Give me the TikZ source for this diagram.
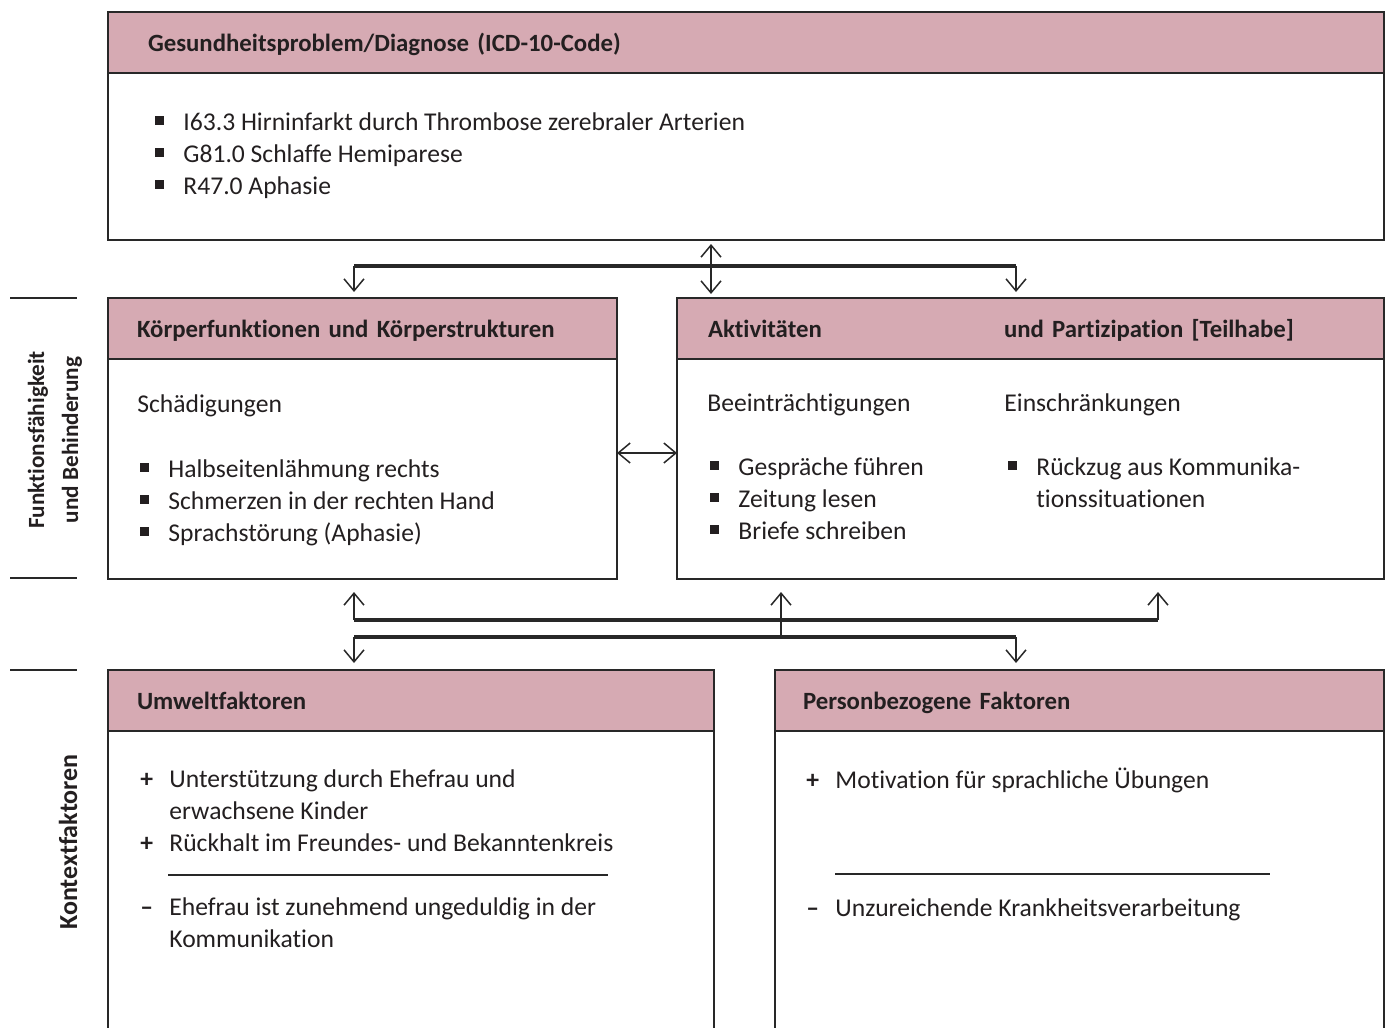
\documentclass[tikz,border=0pt]{standalone}
\usepackage{fontspec}
\setmainfont{Carlito}[Ligatures=NoCommon]
\usepackage{tikz}
\usetikzlibrary{positioning, calc}
\usetikzlibrary{arrows.meta}
\definecolor{headrose}{RGB}{214,170,179}
\definecolor{boxline}{RGB}{40,40,40}
\definecolor{inktext}{RGB}{35,31,32}
\newcommand{\bodyfont}{\fontsize{12.8}{16}\selectfont}
\newcommand{\headfont}{\fontsize{12.4}{16}\selectfont\bfseries}
\newcommand{\sidefont}{\fontsize{11.6}{17}\selectfont\bfseries}
\newcommand{\sqitem}{\makebox[14pt][l]{\rule[2.8pt]{4.5pt}{4.5pt}}}
\newcommand{\plusitem}{\makebox[14.5pt][l]{\textbf{+}}}
\newcommand{\minusitem}{\makebox[14.5pt][l]{\textbf{--}}}
\tikzstyle{headbox}=[draw=boxline, fill=headrose, line width=0.75pt, outer sep=0pt, inner xsep=14.5pt, anchor=north west, align=left, font=\headfont, text=inktext, minimum height=30.5pt, text height=10pt, text depth=1pt]
\tikzstyle{bodybox}=[draw=boxline, line width=0.75pt, outer sep=0pt, inner sep=0pt]
\tikzstyle{listtext}=[anchor=north west, inner sep=0pt, align=left, yshift=11.2pt, font=\bodyfont, text=inktext]
\tikzstyle{edgearrow}=[-{Straight Barb[length=6pt,width=10pt]}, line width=0.75pt, draw=boxline]
\tikzstyle{dblarrow}=[{Straight Barb[length=6pt,width=10pt]}-{Straight Barb[length=6pt,width=10pt]}, line width=0.75pt, draw=boxline]
\tikzstyle{busline}=[line width=1.6pt, draw=boxline]
\tikzstyle{sepline}=[line width=0.6pt, draw=boxline]
\tikzstyle{sidelabel}=[rotate=90, align=center, font=\sidefont, text=inktext]

\begin{document}
\begin{tikzpicture}[x=0.5pt, y=-0.5pt]
    \useasboundingbox (0,0) rectangle (1394,1028);
    \clip (0,0) rectangle (1394,1028);

    % Gesundheitsproblem
    \node[headbox, inner xsep=20pt, text width=598pt] (diaghead) at (108,12) {Gesundheitsproblem/Diagnose (ICD-10-Code)};
    \node[bodybox, minimum width=638pt, minimum height=83.5pt, below=0pt of diaghead] (diagbody) {};
    \node[listtext] (diaglist) at (155,130) {\strut\sqitem I63.3 Hirninfarkt durch Thrombose zerebraler Arterien\\
        \sqitem G81.0 Schlaffe Hemiparese\\
        \sqitem R47.0 Aphasie};

    % Koerperfunktionen
    \node[headbox, text width=225.5pt] (kfhead) at (108,298) {Körperfunktionen und Körperstrukturen};
    \node[bodybox, minimum width=254.5pt, minimum height=110pt, below=0pt of kfhead] (kfbody) {};
    \node[listtext] (kfsub) at (137,412) {\strut Schädigungen};
    \node[listtext] (kflist) at (140,477) {\strut\sqitem Halbseitenlähmung rechts\\
        \sqitem Schmerzen in der rechten Hand\\
        \sqitem Sprachstörung (Aphasie)};

    % Aktivitaeten und Partizipation
    \node[headbox, inner xsep=15.5pt, text width=322.5pt] (akthead) at (677,298) {\makebox[148pt][l]{Aktivitäten}und Partizipation [Teilhabe]};
    \node[bodybox, minimum width=353.5pt, minimum height=110pt, below=0pt of akthead] (aktbody) {};
    \node[listtext] (aktsub) at (707,411) {\strut Beeinträchtigungen};
    \node[listtext] (partsub) at (1004,411) {\strut Einschränkungen};
    \node[listtext] (aktlist) at (710,475) {\strut\sqitem Gespräche führen\\
        \sqitem Zeitung lesen\\
        \sqitem Briefe schreiben};
    \node[listtext] (partlist) at (1008,475) {\strut\sqitem Rückzug aus Kommunika-\\
        \hspace*{14pt}tionssituationen};

    % Umweltfaktoren
    \node[headbox, text width=274pt] (umwhead) at (108,670) {Umweltfaktoren};
    \node[bodybox, minimum width=303pt, minimum height=170pt, below=0pt of umwhead] (umwbody) {};
    \node[listtext] (umwplus) at (140,787) {\strut\plusitem Unterstützung durch Ehefrau und\\
        \hspace*{14.5pt}erwachsene Kinder\\
        \plusitem Rückhalt im Freundes- und Bekanntenkreis};
    \draw[sepline] (168,875) -- (608,875);
    \node[listtext] (umwminus) at (140,915) {\strut\minusitem Ehefrau ist zunehmend ungeduldig in der\\
        \hspace*{14.5pt}Kommunikation};

    % Personbezogene Faktoren
    \node[headbox, inner xsep=14pt, text width=276.5pt] (pershead) at (775,670) {Personbezogene Faktoren};
    \node[bodybox, minimum width=304.5pt, minimum height=170pt, below=0pt of pershead] (persbody) {};
    \node[listtext] (persplus) at (806,788) {\strut\plusitem Motivation für sprachliche Übungen};
    \draw[sepline] (835,874) -- (1270,874);
    \node[listtext] (persminus) at (806,916) {\strut\minusitem Unzureichende Krankheitsverarbeitung};

    % Seitenbeschriftung
    \draw[sepline] (10,298) -- (77,298);
    \draw[sepline] (10,578) -- (77,578);
    \draw[sepline] (10,670) -- (77,670);
    \node[sidelabel] (funklabel) at (55,440) {Funktionsfähigkeit\\und Behinderung};
    \node[sidelabel, font=\headfont\fontsize{13}{16}\selectfont] (kontextlabel) at (68,842) {Kontextfaktoren};

    % Verbindungen oben
    \coordinate (topbusL) at (354,266);
    \coordinate (topbusM) at (711,266);
    \coordinate (topbusR) at (1016,266);
    \draw[busline] (topbusL) -- (topbusR);
    \draw[edgearrow, shorten >=3pt] (topbusL) -- (kfhead.north -| topbusL);
    \draw[edgearrow, shorten >=3pt] (topbusR) -- (akthead.north -| topbusR);
    \draw[dblarrow, shorten <=2pt, shorten >=2pt] (diagbody.south -| topbusM) -- (akthead.north -| topbusM);

    % Verbindung Mitte
    \coordinate (sidelink) at (650,453);
    \draw[dblarrow] (kfbody.east |- sidelink) -- (aktbody.west |- sidelink);

    % Verbindungen unten
    \coordinate (midbusL) at (354,620);
    \coordinate (midbusR) at (1158,620);
    \coordinate (lowbusL) at (354,637);
    \coordinate (lowbusM) at (781,637);
    \coordinate (lowbusR) at (1016,637);
    \draw[busline] (midbusL) -- (midbusR);
    \draw[busline] (lowbusL) -- (lowbusR);
    \draw[edgearrow, shorten >=6.5pt] (midbusL) -- (kfbody.south -| midbusL);
    \draw[edgearrow, shorten >=6.5pt] (midbusR) -- (aktbody.south -| midbusR);
    \draw[edgearrow, shorten >=6.5pt] (lowbusM) -- (aktbody.south -| lowbusM);
    \draw[edgearrow, shorten >=3.5pt] (lowbusL) -- (umwhead.north -| lowbusL);
    \draw[edgearrow, shorten >=3.5pt] (lowbusR) -- (pershead.north -| lowbusR);
\end{tikzpicture}
\end{document}
